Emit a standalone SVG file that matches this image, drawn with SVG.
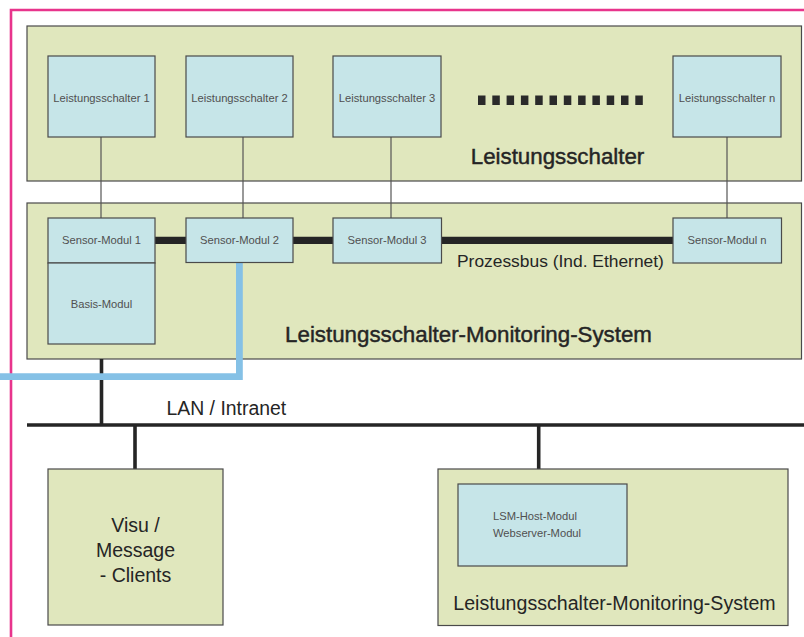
<svg xmlns="http://www.w3.org/2000/svg" width="804" height="637" viewBox="0 0 804 637">
<style>
.panel{fill:#e0e7bd;stroke:#4a4a4a;stroke-width:1.2}
.box{fill:#c6e5e8;stroke:#4a4a4a;stroke-width:1.2}
.small{font-family:"Liberation Sans",Arial,sans-serif;font-size:11.2px;fill:#505050;text-anchor:middle}
.big{font-family:"Liberation Sans",Arial,sans-serif;fill:#252525;text-anchor:middle}
.heavy{stroke:#252525;stroke-width:0.45}
.thin{stroke:#555;stroke-width:1.2;fill:none}
.bus{stroke:#252525;fill:none}
</style>
<rect width="804" height="637" fill="#ffffff"/>
<path d="M11 637 L11 10 L804 10" fill="none" stroke="#e8348c" stroke-width="2.6"/>

<g id="panel-top">
<rect class="panel" x="27" y="26" width="774.5" height="155"/>
<g fill="#2a2a2a">
<rect x="478" y="95.5" width="7.5" height="9.5"/><rect x="492.3" y="95.5" width="7.5" height="9.5"/><rect x="506.6" y="95.5" width="7.5" height="9.5"/><rect x="520.9" y="95.5" width="7.5" height="9.5"/><rect x="535.2" y="95.5" width="7.5" height="9.5"/><rect x="549.5" y="95.5" width="7.5" height="9.5"/><rect x="563.8" y="95.5" width="7.5" height="9.5"/><rect x="578.1" y="95.5" width="7.5" height="9.5"/><rect x="592.4" y="95.5" width="7.5" height="9.5"/><rect x="606.7" y="95.5" width="7.5" height="9.5"/><rect x="621" y="95.5" width="7.5" height="9.5"/><rect x="635.3" y="95.5" width="7.5" height="9.5"/>
</g>
<text class="big heavy" x="557.5" y="164" font-size="22.3">Leistungsschalter</text>
</g>

<g id="panel-mid">
<rect class="panel" x="27" y="203" width="774.5" height="156"/>
<text class="big heavy" x="468.5" y="342" font-size="22.3">Leistungsschalter-Monitoring-System</text>
</g>

<g id="connectors">
<line class="thin" x1="101" y1="137" x2="101" y2="218"/>
<line class="thin" x1="243" y1="137" x2="243" y2="218"/>
<line class="thin" x1="391" y1="137" x2="391" y2="218"/>
<line class="thin" x1="727" y1="137" x2="727" y2="218"/>
<line class="bus" x1="155" y1="240.3" x2="673" y2="240.3" stroke-width="7.3"/>
<line class="bus" x1="101.5" y1="359" x2="101.5" y2="425" stroke-width="3.6"/>
<line class="bus" x1="27" y1="425" x2="804" y2="425" stroke-width="3.6"/>
<line class="bus" x1="135" y1="425" x2="135" y2="469" stroke-width="3.6"/>
<line class="bus" x1="538.7" y1="425" x2="538.7" y2="469" stroke-width="3.6"/>
<path d="M239.4 262 L239.4 376.7 L0 376.7" fill="none" stroke="#85c1e6" stroke-width="6.8"/>
<text class="big" x="457" y="266.7" font-size="17.4" style="text-anchor:start">Prozessbus (Ind. Ethernet)</text>
<text class="big" x="166.5" y="415" font-size="19.4" style="text-anchor:start">LAN / Intranet</text>
</g>

<g id="ls1"><rect class="box" x="48" y="56" width="107" height="81"/><text class="small" x="101.5" y="102">Leistungsschalter 1</text></g>
<g id="ls2"><rect class="box" x="186" y="56" width="107" height="81"/><text class="small" x="239.5" y="102">Leistungsschalter 2</text></g>
<g id="ls3"><rect class="box" x="333" y="56" width="108" height="81"/><text class="small" x="387" y="102">Leistungsschalter 3</text></g>
<g id="lsn"><rect class="box" x="673" y="56" width="108" height="81"/><text class="small" x="727" y="102">Leistungsschalter n</text></g>

<g id="sm1"><rect class="box" x="48" y="218" width="107" height="45"/><text class="small" x="101.5" y="244.3" font-size="11.6">Sensor-Modul 1</text></g>
<g id="basis"><rect class="box" x="48" y="263" width="107" height="81"/><text class="small" x="101.5" y="308" font-size="11.6">Basis-Modul</text></g>
<g id="sm2"><rect class="box" x="186" y="218" width="107" height="44.5"/><text class="small" x="239.5" y="244.3" font-size="11.6">Sensor-Modul 2</text></g>
<g id="sm3"><rect class="box" x="333" y="218" width="108.5" height="45"/><text class="small" x="387" y="244.3" font-size="11.6">Sensor-Modul 3</text></g>
<g id="smn"><rect class="box" x="673" y="218" width="108.5" height="45"/><text class="small" x="727" y="244.3" font-size="11.6">Sensor-Modul n</text></g>

<g id="visu">
<rect class="panel" x="48" y="469" width="175" height="156"/>
<text class="big" x="135.5" y="532" font-size="19.5">Visu /</text>
<text class="big" x="135.5" y="557" font-size="19.5">Message</text>
<text class="big" x="135.5" y="582" font-size="19.5">- Clients</text>
</g>

<g id="lms-host">
<rect class="panel" x="438" y="469" width="350" height="156.5"/>
<rect class="box" x="458" y="484" width="169" height="82"/>
<text class="small" x="493" y="520" font-size="11.8" style="text-anchor:start">LSM-Host-Modul</text>
<text class="small" x="493" y="536.7" font-size="11.6" style="text-anchor:start">Webserver-Modul</text>
<text class="big" x="614.5" y="610" font-size="19.6">Leistungsschalter-Monitoring-System</text>
</g>
</svg>
